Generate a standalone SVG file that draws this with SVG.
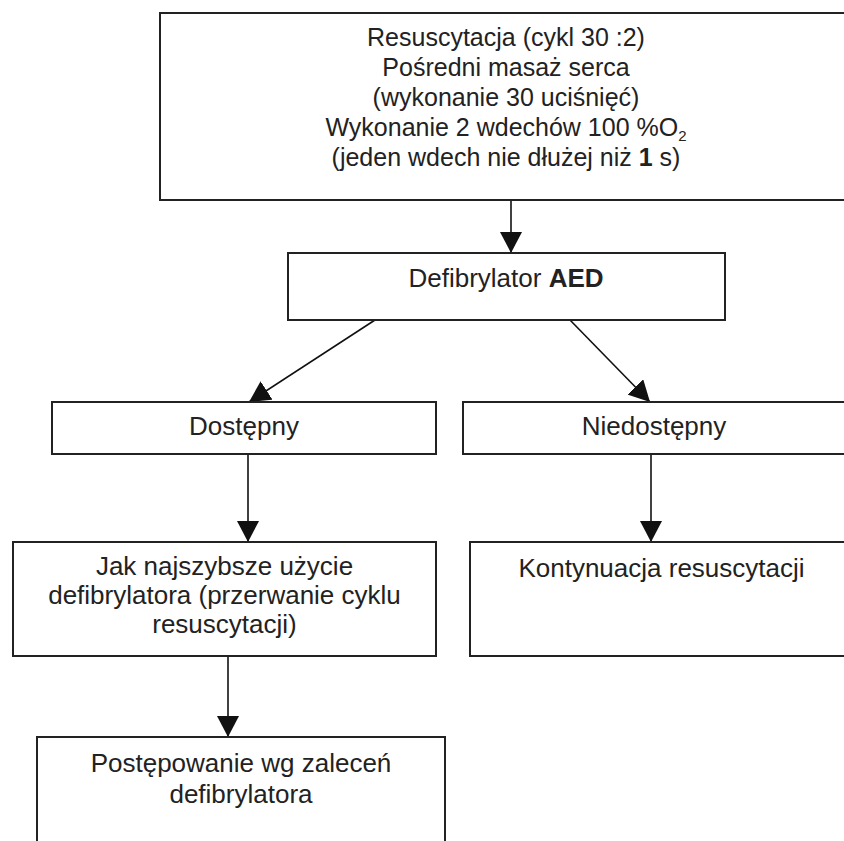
<svg xmlns="http://www.w3.org/2000/svg" width="844" height="841" viewBox="0 0 844 841">
<style>
.box{fill:#fff;stroke:#222;stroke-width:2}
.t{font-family:"Liberation Sans",Arial,sans-serif;font-size:26px;fill:#222;text-anchor:middle}
.t25{font-size:25px}
.c{stroke:#111;stroke-width:1.6;fill:none;marker-end:url(#ah)}
</style>
<defs>
<marker id="ah" markerUnits="userSpaceOnUse" markerWidth="22" markerHeight="22" refX="21" refY="11" orient="auto">
<path d="M0,0 L21,11 L0,22 z" fill="#111"/>
</marker>
</defs>
<rect width="844" height="841" fill="#fff"/>
<g id="connectors">
<line class="c" x1="511" y1="200" x2="511" y2="253"/>
<line class="c" x1="375" y1="320" x2="249" y2="402"/>
<line class="c" x1="570" y1="320" x2="650" y2="402"/>
<line class="c" x1="248" y1="454" x2="248" y2="542"/>
<line class="c" x1="651" y1="454" x2="651" y2="542"/>
<line class="c" x1="228" y1="656" x2="228" y2="737"/>
</g>
<g id="resuscytacja">
<rect class="box" x="160" y="13" width="692" height="187"/>
<text class="t t25" x="506" y="46">Resuscytacja (cykl 30 :2)</text>
<text class="t t25" x="506" y="76">Pośredni masaż serca</text>
<text class="t t25" x="506" y="106">(wykonanie 30 uciśnięć)</text>
<text class="t t25" x="506" y="136">Wykonanie 2 wdechów 100 %O<tspan font-size="15" dy="5">2</tspan></text>
<text class="t t25" x="506" y="166">(jeden wdech nie dłużej niż <tspan font-weight="bold">1</tspan> s)</text>
</g>
<g id="defibrylator">
<rect class="box" x="288" y="253" width="437" height="67"/>
<text class="t" x="506" y="287">Defibrylator <tspan font-weight="bold">AED</tspan></text>
</g>
<g id="dostepny">
<rect class="box" x="52" y="402" width="384" height="52"/>
<text class="t" x="244" y="435">Dostępny</text>
</g>
<g id="niedostepny">
<rect class="box" x="463" y="402" width="382" height="52"/>
<text class="t" x="654" y="435">Niedostępny</text>
</g>
<g id="jak">
<rect class="box" x="13" y="542" width="423" height="114"/>
<text class="t" x="224.5" y="575">Jak najszybsze użycie</text>
<text class="t" x="224.5" y="604">defibrylatora (przerwanie cyklu</text>
<text class="t" x="224.5" y="633">resuscytacji)</text>
</g>
<g id="kontynuacja">
<rect class="box" x="470" y="542" width="383" height="114"/>
<text class="t" x="661.5" y="577">Kontynuacja resuscytacji</text>
</g>
<g id="postepowanie">
<rect class="box" x="37" y="737" width="408" height="120"/>
<text class="t" x="241" y="772">Postępowanie wg zaleceń</text>
<text class="t" x="241" y="803">defibrylatora</text>
</g>
</svg>
